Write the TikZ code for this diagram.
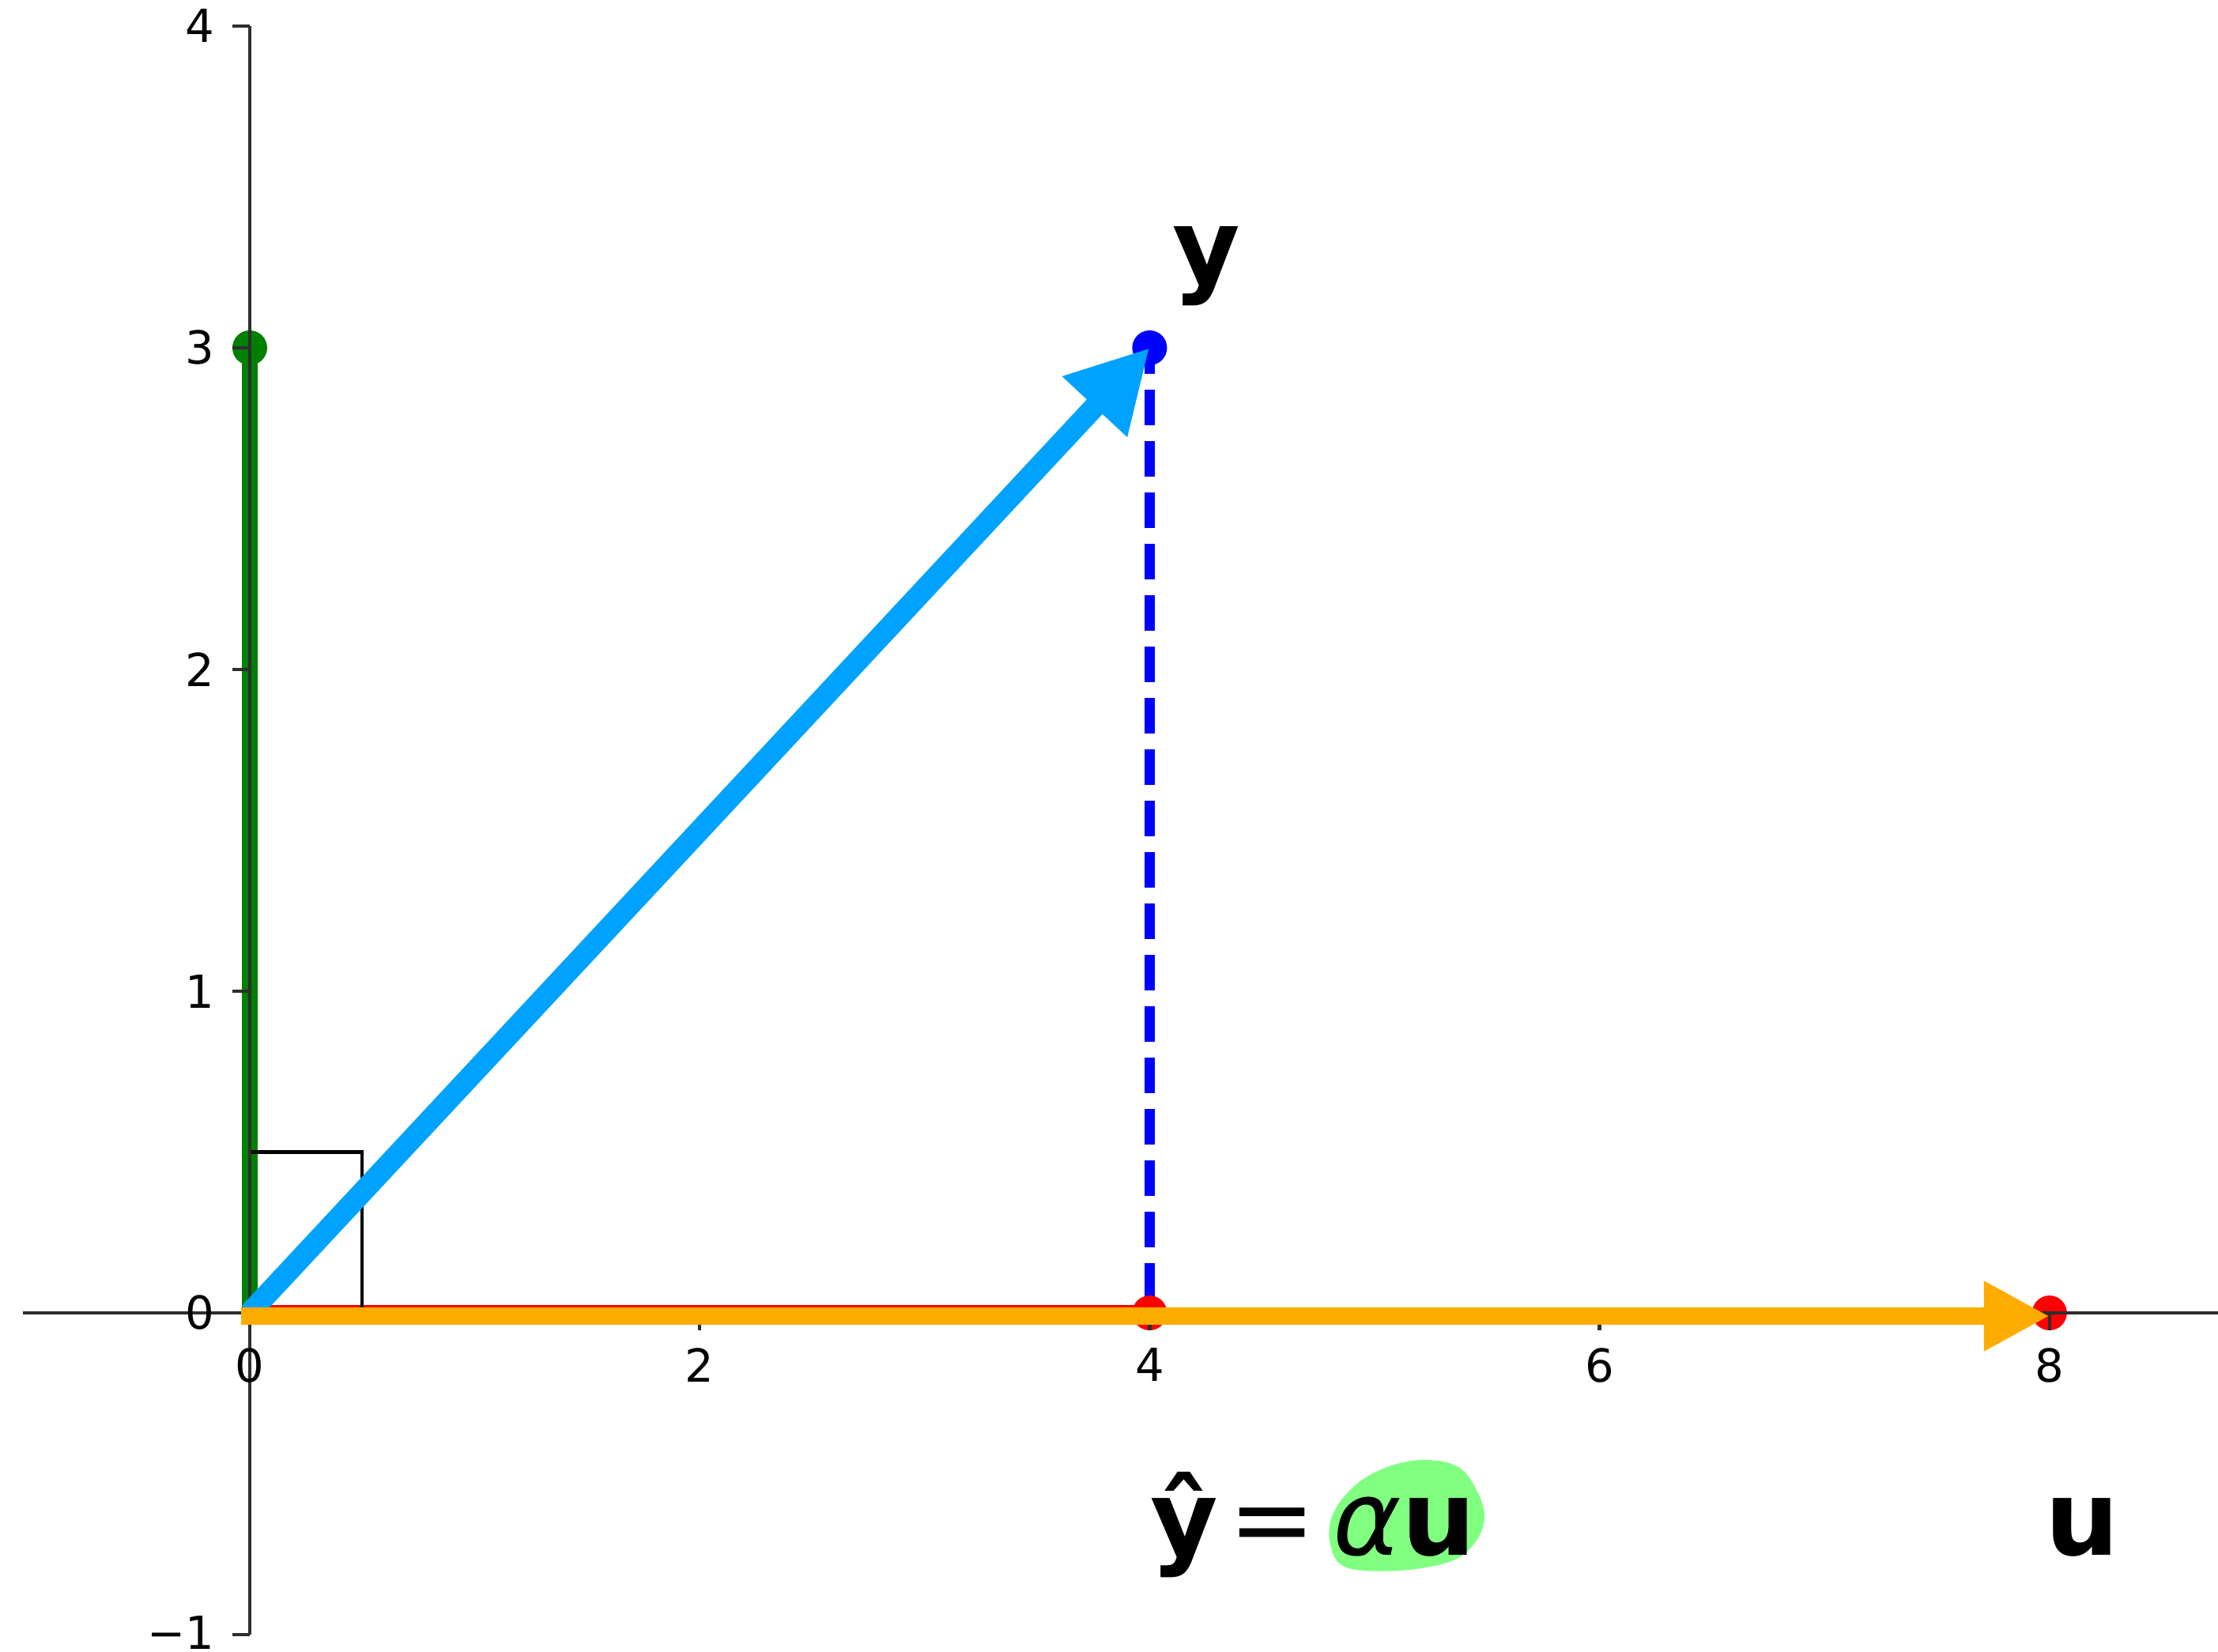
\documentclass[tikz,border=0pt]{standalone}
\usepackage{fontspec}
\setmainfont{DejaVu Sans}
\usepackage{tikz}
\usetikzlibrary{arrows.meta,positioning,calc}
\definecolor{vecblue}{RGB}{0,162,255}
\definecolor{vecorange}{RGB}{255,172,0}
\definecolor{ptgreen}{RGB}{0,128,0}
\definecolor{marker}{RGB}{128,255,128}

\begin{document}
\begin{tikzpicture}[
  x=2.846cm, y=4.07cm,
  axis/.style={draw=black!82,line width=1.25pt},
  tick/.style={font=\fontsize{16.4}{18}\selectfont,inner sep=0pt},
  dot/.style={circle,inner sep=0pt,minimum size=0.44cm},
  vec/.style={line width=7.7pt,-{Triangle[length=1.02cm,width=1.05cm]}},
  lbl/.style={font=\fontsize{37.4}{40}\selectfont,inner sep=0pt,anchor=base west}
]
\useasboundingbox (-1.1103,-1.0516) rectangle (8.7491,4.0811);
% points
\coordinate (O) at (0,0);
\coordinate (G) at (0,3);
\coordinate (Y) at (4,3);
\coordinate (P) at (4,0);
\coordinate (U) at (8,0);

% green vector and red projection line
\draw[ptgreen,line width=5.7pt] (O) -- (G);
\draw[red,line width=0.9pt] ([yshift=0.08cm]O) -- ([yshift=0.08cm]P);
\draw[blue,line width=3.7pt,dash pattern=on 0.45cm off 0.2cm,dash phase=0.12cm] (Y) -- (P);
% dots
\node[dot,fill=ptgreen] (g) at (G) {};
\node[dot,fill=blue]    (y) at (Y) {};
\node[dot,fill=red]     (p) at (P) {};
\node[dot,fill=red]     (u) at (U) {};
% right angle box
\draw[black,line width=1.2pt] (O) rectangle (0.5,0.5);

% axes through the origin
\draw[axis] (-1.01,0) -- (8.7491,0);
\draw[axis] (0,-1) -- (0,4);
\foreach \i in {0,2,4,6,8}{
  \draw[axis] (\i,0) -- ++(0,-0.22cm);
  \node[tick,anchor=north] (xt\i) at ([yshift=-0.44cm]\i,0) {\i};
}
\foreach \j/\t in {0/0,1/1,2/2,3/3,4/4}{
  \draw[axis] (0,\j) -- ++(-0.22cm,0);
  \node[tick,anchor=east] (yt\t) at ([xshift=-0.44cm]0,\j) {\t};
}
\draw[axis] (0,-1) -- ++(-0.22cm,0);
\node[tick,anchor=east] (ytm1) at ([xshift=-0.44cm,yshift=0.03cm]0,-1) {−1};

% vectors y and u
\draw[vec,vecblue] (O) -- (Y);
\draw[vec,vecorange,line width=6pt,line cap=rect,
      -{Triangle[length=0.83cm,width=0.83cm]}] ([yshift=-0.04cm]O) -- ([yshift=-0.04cm]U);

% highlight behind alpha u
\fill[marker] plot[smooth cycle,tension=0.6] coordinates {
  (4.815,-0.625) (4.915,-0.535) (5.060,-0.478) (5.225,-0.457)
  (5.375,-0.480) (5.460,-0.560) (5.488,-0.640) (5.445,-0.715)
  (5.340,-0.772) (5.109,-0.801) (4.874,-0.791) (4.803,-0.720)};

% labels
\node[lbl] (ylbl) at (4.1,3.2) {\bfseries y};
\node[lbl] (eq) at (4,-0.752) {{\bfseries ŷ}\hspace{0.14cm}=\hspace{0.22cm}{\itshape α}{\bfseries u}};
\node[lbl,anchor=base] (ulbl) at (8.145,-0.752) {\bfseries u};
\end{tikzpicture}
\end{document}
